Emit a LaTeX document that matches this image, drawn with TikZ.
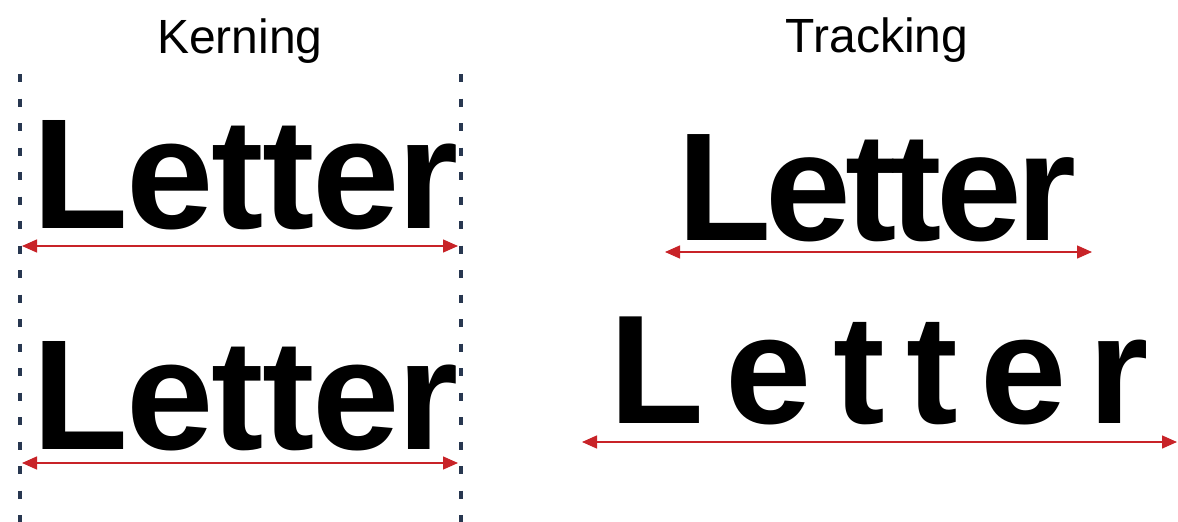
\documentclass[tikz,border=0pt]{standalone}
\usepackage{fontspec}
\setmainfont{Liberation Sans}
\usetikzlibrary{arrows.meta}
\definecolor{arrowred}{RGB}{200,35,40}
\definecolor{guide}{RGB}{40,55,80}
\newcommand{\spacedword}[1]{L\kern#1 e\kern#1 t\kern#1 t\kern#1 e\kern#1 r}
\begin{document}
\begin{tikzpicture}[x=1pt,y=-1pt,
  title/.style={font=\fontsize{48}{56}\selectfont, inner sep=0pt, anchor=base},
  word/.style={font=\bfseries\fontsize{#1}{#1}\selectfont, inner sep=0pt, anchor=base west},
  measure/.style={arrowred, line width=1.4pt, {Triangle[length=15pt,width=13pt]}-{Triangle[length=15pt,width=13pt]}},
  guideline/.style={guide, line width=3.5pt, dash pattern=on 8pt off 16.5pt}]
\useasboundingbox[fill=white] (0,0) rectangle (1178,522);

% titles
\node[title] (tk) at (240,53) {Kerning};
\node[title] (tt) at (877,52) {Tracking};

% guide lines
\coordinate (gla) at (20,74);
\coordinate (glb) at (20,522);
\coordinate (gra) at (461,74);
\coordinate (grb) at (461,522);
\draw[guideline] (gla) -- (glb);
\draw[guideline] (gra) -- (grb);

% kerning words
\node[word=157] (k1) at (32.5,228) {\spacedword{-2pt}};
\node[word=157] (k2) at (32.5,449) {\spacedword{-2pt}};

% tracking words
\node[word=154] (t1) at (677,240) {\spacedword{-5.8pt}};
\node[word=155] (t2) at (609,423) {\spacedword{21.8pt}};

% measuring arrows
\coordinate (k1a) at (22,246);  \coordinate (k1b) at (458,246);
\coordinate (k2a) at (22,463);  \coordinate (k2b) at (458,463);
\coordinate (t1a) at (665,252); \coordinate (t1b) at (1092,252);
\coordinate (t2a) at (582,442); \coordinate (t2b) at (1177,442);
\draw[measure] (k1a) -- (k1b);
\draw[measure] (k2a) -- (k2b);
\draw[measure] (t1a) -- (t1b);
\draw[measure] (t2a) -- (t2b);
\end{tikzpicture}
\end{document}
